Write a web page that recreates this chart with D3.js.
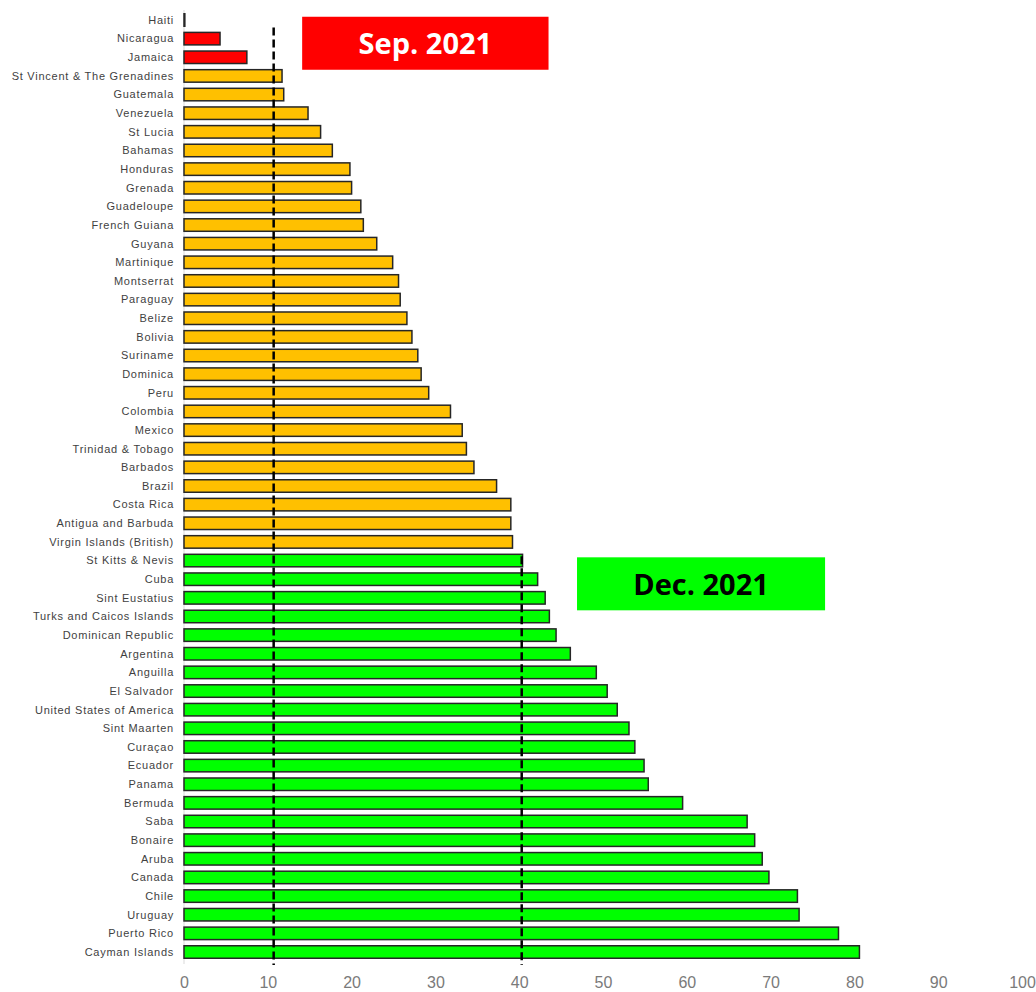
<!DOCTYPE html>
<html lang="en">
<head>
    <meta charset="UTF-8">
    <title>Vaccination coverage, Americas</title>
    <script src="https://d3js.org/d3.v7.min.js"></script>
    <style>
        body {
            margin: 0;
            background: #ffffff;
            font-family: "Liberation Sans", Arial, sans-serif;
        }
        .country {
            font-size: 11px;
            fill: #3f3f3f;
            letter-spacing: 0.75px;
        }
        .tick-label {
            font-size: 16px;
            fill: #7a7a7a;
        }
        .badge-text {
            font-family: "Open Sans", sans-serif;
            font-weight: bold;
            font-size: 29px;
        }
    </style>
</head>
<body>
    <svg id="chart" width="1036" height="992"></svg>

    <script>
        const countries = [
            "Haiti", "Nicaragua", "Jamaica", "St Vincent & The Grenadines", "Guatemala",
            "Venezuela", "St Lucia", "Bahamas", "Honduras", "Grenada",
            "Guadeloupe", "French Guiana", "Guyana", "Martinique", "Montserrat",
            "Paraguay", "Belize", "Bolivia", "Suriname", "Dominica",
            "Peru", "Colombia", "Mexico", "Trinidad & Tobago", "Barbados",
            "Brazil", "Costa Rica", "Antigua and Barbuda", "Virgin Islands (British)", "St Kitts & Nevis",
            "Cuba", "Sint Eustatius", "Turks and Caicos Islands", "Dominican Republic", "Argentina",
            "Anguilla", "El Salvador", "United States of America", "Sint Maarten", "Curaçao",
            "Ecuador", "Panama", "Bermuda", "Saba", "Bonaire",
            "Aruba", "Canada", "Chile", "Uruguay", "Puerto Rico",
            "Cayman Islands"
        ];
        const values = [
            0.1, 4.3, 7.5, 11.7, 11.9,
            14.8, 16.3, 17.7, 19.8, 20.0,
            21.1, 21.4, 23.0, 24.9, 25.6,
            25.8, 26.6, 27.2, 27.9, 28.3,
            29.2, 31.8, 33.2, 33.7, 34.6,
            37.3, 39.0, 39.0, 39.2, 40.4,
            42.2, 43.1, 43.6, 44.4, 46.1,
            49.2, 50.5, 51.7, 53.1, 53.8,
            54.9, 55.4, 59.5, 67.2, 68.1,
            69.0, 69.8, 73.2, 73.4, 78.1,
            80.6
        ];
        const tickValues = [0, 10, 20, 30, 40, 50, 60, 70, 80, 90, 100];

        // reference lines: value and the row where the dashed line begins
        const refValues = [10.7, 40.3];
        const refStartRows = ["Nicaragua", "St Kitts & Nevis"];

        const badgeLabels = ["Sep. 2021", "Dec. 2021"];
        const badgeFill = ["#ff0000", "#00ff00"];
        const badgeText = ["#ffffff", "#000000"];

        const barColors = ["#ff0000", "#ffc000", "#00ff00"];

        const data = countries.map((c, i) => ({ country: c, value: values[i] }));

        const svg = d3.select("#chart");
        const x = d3.scaleLinear().domain([0, 100]).range([184, 1022]);
        const step = 18.64;
        const y = d3.scaleBand()
            .domain(countries)
            .range([20 - step / 2, 952 + step / 2])
            .paddingInner(0.33)
            .paddingOuter(0.165);

        const colorFor = v => v < refValues[0] ? barColors[0] : (v < refValues[1] ? barColors[1] : barColors[2]);

        // vertical axis line
        svg.append("line")
            .attr("x1", x(0)).attr("x2", x(0))
            .attr("y1", 10).attr("y2", 964)
            .attr("stroke", "#d9d9d9")
            .attr("stroke-width", 1);

        svg.selectAll(".bar")
            .data(data)
            .enter()
            .append("rect")
            .attr("class", "bar")
            .attr("x", x(0))
            .attr("y", d => y(d.country))
            .attr("width", d => Math.max(0.5, x(d.value) - x(0)))
            .attr("height", y.bandwidth())
            .attr("fill", d => colorFor(d.value))
            .attr("stroke", "#262626")
            .attr("stroke-width", 1.5);

        svg.selectAll(".country")
            .data(data)
            .enter()
            .append("text")
            .attr("class", "country")
            .attr("x", 174)
            .attr("y", d => y(d.country) + y.bandwidth() / 2)
            .attr("dy", "0.35em")
            .attr("text-anchor", "end")
            .text(d => d.country);

        // x axis: labels only
        const axis = d3.axisBottom(x).tickValues(tickValues).tickSize(0).tickPadding(0);
        const axisG = svg.append("g")
            .attr("transform", "translate(0, 977)")
            .call(axis);
        axisG.select(".domain").remove();
        axisG.selectAll("text")
            .attr("class", "tick-label")
            .attr("dy", "0.71em")
            .style("font-family", "'Liberation Sans', Arial, sans-serif");

        // dashed reference lines
        svg.selectAll(".ref")
            .data(refValues)
            .enter()
            .append("line")
            .attr("class", "ref")
            .attr("x1", d => x(d)).attr("x2", d => x(d))
            .attr("y1", (d, i) => y(refStartRows[i]) + (i === 0 ? -5 : 2))
            .attr("y2", 965)
            .attr("stroke", "#000000")
            .attr("stroke-width", 2.5)
            .attr("stroke-dasharray", "8,4");

        // period badges
        const badgeBoxes = [
            { x0: 14.1, x1: 43.5, row: "Haiti" },
            { x0: 46.9, x1: 76.5, row: "St Kitts & Nevis" }
        ];
        badgeBoxes.forEach((b, i) => {
            const left = x(b.x0), right = x(b.x1);
            const top = y(b.row) + 3;
            const g = svg.append("g");
            g.append("rect")
                .attr("x", left).attr("y", top)
                .attr("width", right - left).attr("height", 53)
                .attr("fill", badgeFill[i]);
            g.append("text")
                .attr("class", "badge-text")
                .attr("x", (left + right) / 2)
                .attr("y", top + 27)
                .attr("dy", "0.36em")
                .attr("text-anchor", "middle")
                .attr("fill", badgeText[i])
                .text(badgeLabels[i]);
        });
    </script>
</body>
</html>
